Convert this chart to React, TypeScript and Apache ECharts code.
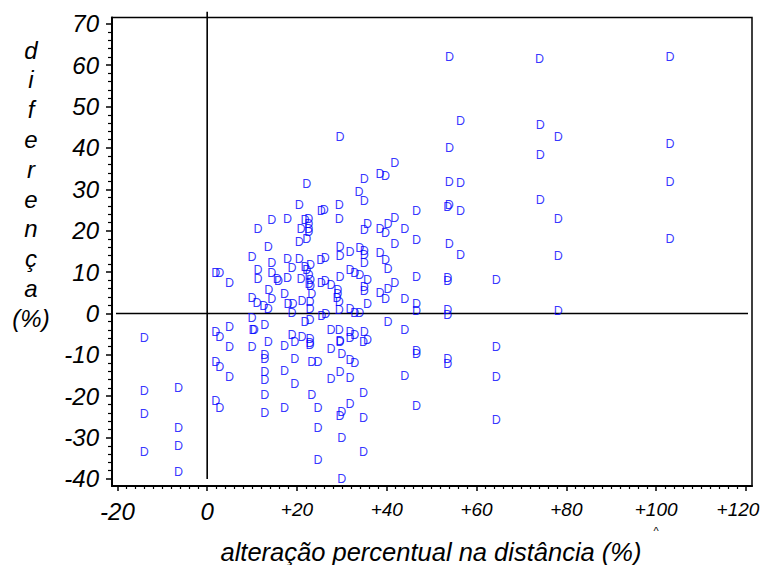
import React, { useEffect, useRef } from "react";
import * as echarts from "echarts";

// ---- data (x = alteração percentual na distância, y = diferença) ----
const groupNeg: number[][] = [
  [-14.0, -5.9], [-14.0, -18.7], [-14.0, -24.4], [-14.0, -33.4],
  [-6.4, -17.9], [-6.4, -27.6], [-6.4, -32.0], [-6.4, -38.4],
];
const group0to5: number[][] = [
  [1.9, 9.7], [2.8, 9.7], [5.0, 7.4], [1.9, -4.4], [2.8, -5.6], [5.0, -3.2],
  [5.0, -8.0], [1.9, -11.8], [2.8, -13.0], [5.0, -15.4], [1.9, -21.2], [2.8, -22.8],
];
const group10to16: number[][] = [
  [10.0, 13.7], [10.0, 3.8], [10.0, -1.0], [10.2, -4.0], [10.5, -4.0], [10.0, -8.0],
  [12.8, -2.7], [12.8, -10.1], [12.8, -10.9], [12.8, -14.2], [12.8, -16.1], [12.8, -19.8],
  [12.8, -24.1], [13.6, -6.9], [11.3, 20.4], [11.3, 10.6], [11.3, 8.4], [11.1, 2.6],
  [12.6, 1.9], [13.6, 1.0], [13.6, 16.1], [13.7, 5.6], [14.4, 3.4], [14.4, 22.7],
  [14.4, 12.1], [14.4, 9.8], [15.6, 8.4], [15.9, 7.8],
];
const group17to21: number[][] = [
  [17.2, 4.8], [17.9, 22.8], [17.9, 13.2], [17.9, 8.6], [18.0, 2.2], [19.1, 2.2],
  [18.9, 0.0], [18.9, 11.0], [20.5, 26.3], [20.5, 13.2], [20.5, 17.2], [20.9, 8.4],
  [20.9, 20.3], [21.1, 3.0], [17.2, -7.9], [17.2, -13.9], [17.2, -22.8], [18.9, -5.1],
  [19.5, -6.9], [19.5, -10.9], [19.5, -17.1],
];
const group22to23: number[][] = [
  [22.2, 31.4], [21.8, 22.5], [22.6, 22.8], [22.6, 21.5], [22.6, 20.4], [22.6, 19.6],
  [22.2, 18.0], [21.8, 11.3], [23.0, 11.6], [22.2, 10.6], [22.7, 9.2], [23.0, 8.2],
  [22.7, 7.2], [23.0, 6.6], [23.3, 4.6], [22.9, 2.7], [22.9, 1.1], [21.1, -5.6],
  [21.8, -2.1], [22.9, -1.6], [22.9, -6.1], [22.9, -7.1], [22.9, -7.7], [23.3, -11.7],
  [23.3, -19.8],
];
const group24to28: number[][] = [
  [25.4, 24.7], [26.1, 25.1], [25.3, 12.9], [26.3, 13.4], [25.4, 7.4], [26.3, 7.8],
  [27.6, 6.8], [25.5, -0.5], [26.4, -0.2], [24.7, -11.7], [24.7, -22.8], [24.7, -27.6],
  [24.7, -35.4], [27.6, -4.0], [27.6, -8.7], [27.6, -15.9],
];
const group29to30: number[][] = [
  [29.4, 26.1], [29.4, 22.8], [29.6, 16.1], [29.6, 13.8], [29.6, 8.9], [29.1, 5.6],
  [29.1, 4.6], [28.9, 3.8], [29.4, 2.7], [29.4, 0.8], [29.6, 42.7], [29.4, -4.0],
  [29.6, -6.6], [29.6, -6.9], [30.0, -9.9], [29.6, -14.2], [30.0, -23.8], [29.6, -24.8],
  [30.0, -30.2], [30.0, -39.9],
];
const group31to36: number[][] = [
  [31.8, 14.9], [31.8, 10.4], [32.9, 9.7], [34.0, 9.4], [35.7, 8.2], [34.0, 15.8],
  [35.0, 15.0], [35.0, 14.2], [35.0, 12.2], [35.0, 6.3], [35.0, 5.4], [35.7, 2.2],
  [31.8, 1.1], [32.9, 0.2], [34.0, 0.2], [33.8, 29.3], [35.0, 27.1], [35.0, 32.5],
  [35.7, 21.7], [35.0, 20.1], [31.8, -4.5], [32.9, -5.1], [31.8, -5.9], [35.0, -4.5],
  [35.7, -6.3], [34.8, -6.9], [31.8, -11.3], [32.9, -11.9], [31.8, -15.5], [34.8, -19.3],
  [31.8, -21.8], [34.8, -25.2], [34.8, -33.6],
];
const group38to47: number[][] = [
  [38.5, 33.8], [39.7, 33.3], [41.8, 36.4], [38.5, 20.5], [39.7, 19.5], [40.3, 21.7],
  [41.8, 23.1], [44.0, 20.3], [41.8, 16.8], [38.5, 14.6], [39.7, 13.0], [40.3, 10.8],
  [41.8, 7.4], [38.5, 5.0], [40.3, 5.8], [39.7, 3.4], [44.0, 3.6], [40.3, -2.1],
  [44.0, -3.9], [44.0, -15.1], [46.6, 24.7], [46.6, 17.7], [46.6, 8.9], [46.6, 2.2],
  [46.6, 0.6], [46.6, -9.1], [46.6, -9.9], [46.6, -22.4],
];
const group53to57: number[][] = [
  [54.0, 62.0], [54.0, 40.0], [53.9, 31.8], [56.4, 31.5], [53.6, 25.7], [53.9, 26.1],
  [56.4, 24.7], [53.9, 16.8], [56.4, 14.2], [53.6, 8.6], [53.6, 7.8], [53.6, 0.9],
  [53.6, -0.3], [53.6, -11.1], [53.6, -12.3], [56.4, 46.6],
];
const groupHigh: number[][] = [
  [64.4, 8.2], [64.4, -8.2], [64.4, -15.4], [64.4, -25.8], [74.0, 61.5], [74.2, 45.6],
  [74.2, 38.4], [74.2, 27.3], [78.2, 42.7], [78.2, 22.9], [78.2, 14.0], [78.2, 0.5],
  [103.1, 62.0], [103.1, 41.0], [103.1, 31.8], [103.1, 17.9],
];

// reference lines: x = 0 and y = 0
const vLine: number[][] = [[0, -40], [0, 72.9]];
const hLine: number[][] = [[-21.2, 0], [121.35, 0]];

const yTitleLetters = ["d", "i", "f", "e", "r", "e", "n", "ç", "a", "(%)"];
const xTitle = "alteração percentual na distância (%)";
const markerText = "D";

// ---- layout ----
const FONT = '"Liberation Sans", Arial, Helvetica, sans-serif';
const FRAME = { left: 112, top: 17.6, width: 640, height: 468.4 };
const X0 = [-21.2, 121.35]; // frame extent, x
const Y0 = [-41.7, 71.5];   // frame extent, y
const XT = [-20, 120];      // labelled x range
const YT = [-40, 70];       // labelled y range
const sx = FRAME.width / (X0[1] - X0[0]);
const sy = FRAME.height / (Y0[1] - Y0[0]);
// grid A: full frame width, y spanning the labelled range (carries y ticks + data)
const GA = { left: FRAME.left, width: FRAME.width, top: FRAME.top + (Y0[1] - YT[1]) * sy, height: (YT[1] - YT[0]) * sy };
// grid B: full frame height, x spanning the labelled range (carries x ticks)
const GB = { left: FRAME.left + (XT[0] - X0[0]) * sx, width: (XT[1] - XT[0]) * sx, top: FRAME.top, height: FRAME.height };

export default function App() {
  const ref = useRef<HTMLDivElement>(null);
  useEffect(() => {
    if (!ref.current) return;
    const chart = echarts.init(ref.current, undefined, { renderer: "svg" });
    const data = ([] as number[][]).concat(
      groupNeg, group0to5, group10to16, group17to21, group22to23,
      group24to28, group29to30, group31to36, group38to47, group53to57, groupHigh
    );
    const refLine = (d: number[][], axisIndex: number) => ({
      type: "line", xAxisIndex: axisIndex, yAxisIndex: axisIndex, clip: false, data: d,
      symbol: "none", silent: true, z: 1,
      lineStyle: { color: "#000", width: 1.6, type: "solid" },
      emphasis: { disabled: true },
    });
    const hidden = { axisLine: { show: false }, axisTick: { show: false }, axisLabel: { show: false }, splitLine: { show: false } };
    const blackLine = { show: true, onZero: false, lineStyle: { color: "#000", width: 2 } };
    chart.setOption({
      animation: false,
      backgroundColor: "#fff",
      grid: [
        { ...FRAME, show: true, borderColor: "#000", borderWidth: 1.5, backgroundColor: "transparent" },
        { ...GA, show: false },
        { ...GB, show: false },
      ],
      xAxis: [
        { type: "value", gridIndex: 0, min: X0[0], max: X0[1], ...hidden, axisLine: blackLine },
        { type: "value", gridIndex: 1, min: X0[0], max: X0[1], ...hidden },
        {
          type: "value", gridIndex: 2, min: XT[0], max: XT[1], interval: 20, position: "bottom",
          axisLine: blackLine,
          axisTick: { show: true, length: 5, lineStyle: { color: "#000", width: 1.5 } },
          minorTick: { show: true, splitNumber: 10, length: 3, lineStyle: { color: "#000", width: 1.2 } },
          splitLine: { show: false }, minorSplitLine: { show: false },
          axisLabel: {
            show: true, margin: 11, showMinLabel: true, showMaxLabel: true, hideOverlap: false,
            formatter: (v: number) => (v <= 0 ? `{b|${v}}` : v >= 120 ? `{e|+${v}}` : `{s|+${v}}`),
            rich: {
              b: { fontSize: 24, fontStyle: "italic", fontFamily: FONT, color: "#000", padding: [2, 0, 0, 0] },
              s: { fontSize: 19, fontStyle: "italic", fontFamily: FONT, color: "#000", padding: [3, 0, 0, 0] },
              e: { fontSize: 19, fontStyle: "italic", fontFamily: FONT, color: "#000", padding: [3, 16, 0, 0] },
            },
          },
        },
      ],
      yAxis: [
        { type: "value", gridIndex: 0, min: Y0[0], max: Y0[1], ...hidden, axisLine: blackLine },
        {
          type: "value", gridIndex: 1, min: YT[0], max: YT[1], interval: 10, position: "left",
          axisLine: blackLine,
          axisTick: { show: true, length: 6, lineStyle: { color: "#000", width: 1.5 } },
          minorTick: { show: true, splitNumber: 5, length: 4, lineStyle: { color: "#000", width: 1.2 } },
          splitLine: { show: false }, minorSplitLine: { show: false },
          axisLabel: {
            show: true, margin: 13, showMinLabel: true, showMaxLabel: true, hideOverlap: false,
            fontSize: 24, fontStyle: "italic", fontFamily: FONT, color: "#000",
            formatter: (v: number) => String(v),
          },
        },
        { type: "value", gridIndex: 2, min: Y0[0], max: Y0[1], ...hidden },
      ],
      series: [
        refLine(vLine, 0),
        refLine(hLine, 2),
        {
          type: "scatter", xAxisIndex: 1, yAxisIndex: 1, clip: false, z: 3,
          data,
          symbol: "circle", symbolSize: 1,
          itemStyle: { color: "rgba(0,0,0,0)" },
          label: {
            show: true, position: "inside", formatter: markerText,
            color: "#0000ff", fontSize: 12.5, fontFamily: FONT,
          },
          emphasis: { disabled: true },
        },
      ],
      graphic: [
        ...yTitleLetters.map((t, i) => ({
          type: "text", x: 31, y: 50 + i * 29.8, silent: true,
          style: { text: t, fill: "#000", fontSize: 24, fontStyle: "italic", fontFamily: FONT, align: "center", verticalAlign: "middle" },
        })),
        {
          type: "text", x: 431, y: 552, silent: true,
          style: { text: xTitle, fill: "#000", fontSize: 25.5, fontStyle: "italic", fontFamily: FONT, align: "center", verticalAlign: "middle" },
        },
        {
          type: "text", x: 656, y: 531, silent: true,
          style: { text: "^", fill: "#000", fontSize: 11, fontFamily: FONT, align: "center", verticalAlign: "middle" },
        },
      ],
    });
    return () => chart.dispose();
  }, []);
  return <div ref={ref} style={{ position: "absolute", left: 0, top: 0, width: 763, height: 565 }} />;
}
